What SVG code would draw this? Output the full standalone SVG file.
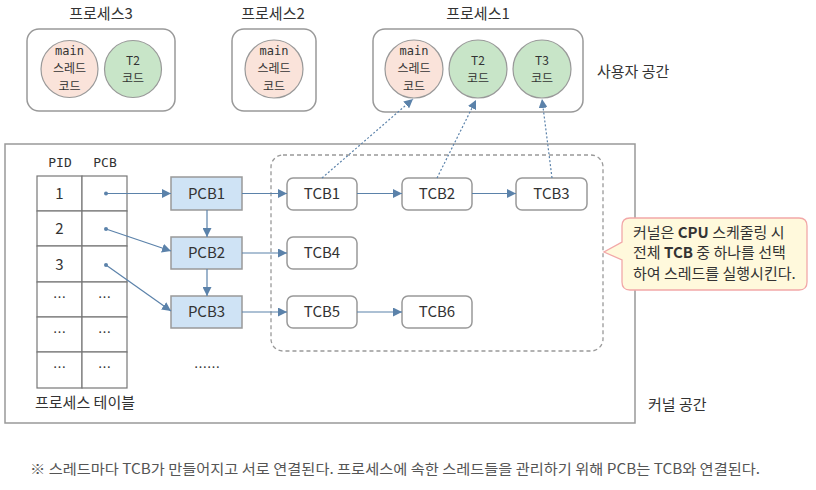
<svg xmlns="http://www.w3.org/2000/svg" width="816" height="490" viewBox="0 0 816 490">
<defs>
<style>
text{font-family:"Noto Sans CJK KR","Noto Sans",sans-serif;fill:#333;}
.t{font-size:15px;}
.c{text-anchor:middle;}
.mono{font-family:"DejaVu Sans Mono","Liberation Mono",monospace;font-size:12px;}
.s13{font-size:13px;}
.s12{font-size:12px;}
.box{fill:#fff;stroke:#999;stroke-width:1.5;}
.main{fill:#fae3da;stroke:#999;stroke-width:1.2;}
.grn{fill:#c8e5c8;stroke:#999;stroke-width:1.2;}
.pcb{fill:#cfe3f5;stroke:#999;stroke-width:1.5;}
.tcb{fill:#fff;stroke:#999;stroke-width:1.5;}
.cell{fill:#fff;stroke:#777;stroke-width:1.2;}
.arr{stroke:#5b82aa;stroke-width:1.2;fill:none;marker-end:url(#ah);}
.dot{stroke:#5b82aa;stroke-width:1.2;fill:none;stroke-dasharray:2 2;marker-end:url(#ah);}
</style>
<marker id="ah" viewBox="0 0 10 10" refX="10" refY="5" markerWidth="9" markerHeight="9" markerUnits="userSpaceOnUse" orient="auto">
<path d="M0,0 L10,5 L0,10 z" fill="#5b82aa"/>
</marker>
</defs>

<!-- user space -->
<g id="process3">
<text class="t c" x="101" y="19">프로세스3</text>
<rect class="box" x="27" y="29" width="148" height="82" rx="12"/>
<circle class="main" cx="69.5" cy="69" r="28.5"/>
<text class="mono c" x="69.5" y="55">main</text>
<text class="s12 c" x="69.5" y="73">스레드</text>
<text class="s12 c" x="69.5" y="91">코드</text>
<circle class="grn" cx="133" cy="69" r="28.5"/>
<text class="s12 c" x="133" y="65">T2</text>
<text class="s12 c" x="133" y="83">코드</text>
</g>
<g id="process2">
<text class="t c" x="273" y="19">프로세스2</text>
<rect class="box" x="232" y="29" width="84" height="82" rx="12"/>
<circle class="main" cx="274" cy="69" r="29"/>
<text class="mono c" x="274" y="55">main</text>
<text class="s12 c" x="274" y="73">스레드</text>
<text class="s12 c" x="274" y="91">코드</text>
</g>
<g id="process1">
<text class="t c" x="478" y="19">프로세스1</text>
<rect class="box" x="373" y="29" width="210" height="83" rx="12"/>
<circle class="main" cx="414" cy="69" r="29"/>
<text class="mono c" x="414" y="55">main</text>
<text class="s12 c" x="414" y="73">스레드</text>
<text class="s12 c" x="414" y="91">코드</text>
<circle class="grn" cx="478" cy="69" r="29"/>
<text class="s12 c" x="478" y="65">T2</text>
<text class="s12 c" x="478" y="83">코드</text>
<circle class="grn" cx="542" cy="69" r="29"/>
<text class="s12 c" x="542" y="65">T3</text>
<text class="s12 c" x="542" y="83">코드</text>
</g>
<text class="t" x="597" y="77">사용자 공간</text>

<!-- kernel -->
<rect id="kernel" x="5" y="144" width="630" height="279" fill="#fff" stroke="#999" stroke-width="1.5"/>
<text class="t" x="648" y="410">커널 공간</text>

<g id="processTable">
<text class="mono c" x="60" y="167" style="font-size:13px">PID</text>
<text class="mono c" x="105" y="167" style="font-size:13px">PCB</text>
<rect class="cell" x="37" y="176" width="45" height="35"/>
<rect class="cell" x="82" y="176" width="45" height="35"/>
<rect class="cell" x="37" y="211" width="45" height="35"/>
<rect class="cell" x="82" y="211" width="45" height="35"/>
<rect class="cell" x="37" y="246" width="45" height="36"/>
<rect class="cell" x="82" y="246" width="45" height="36"/>
<rect class="cell" x="37" y="282" width="45" height="35"/>
<rect class="cell" x="82" y="282" width="45" height="35"/>
<rect class="cell" x="37" y="317" width="45" height="35"/>
<rect class="cell" x="82" y="317" width="45" height="35"/>
<rect class="cell" x="37" y="352" width="45" height="36"/>
<rect class="cell" x="82" y="352" width="45" height="36"/>
<text class="t c" x="59.5" y="199">1</text>
<text class="t c" x="59.5" y="234">2</text>
<text class="t c" x="59.5" y="270">3</text>
<text class="s13 c" x="59.5" y="302">…</text>
<text class="s13 c" x="104.5" y="302">…</text>
<text class="s13 c" x="59.5" y="337">…</text>
<text class="s13 c" x="104.5" y="337">…</text>
<text class="s13 c" x="59.5" y="372">…</text>
<text class="s13 c" x="104.5" y="372">…</text>
<circle cx="106" cy="193.5" r="2" fill="#5b82aa"/>
<circle cx="106" cy="229" r="2" fill="#5b82aa"/>
<circle cx="106" cy="265" r="2" fill="#5b82aa"/>
<text class="t c" x="85" y="408">프로세스 테이블</text>
</g>

<rect id="threadGroup" x="271" y="155" width="332" height="196" rx="12" fill="none" stroke="#999" stroke-width="1.3" stroke-dasharray="4 3"/>

<g id="pcb1"><rect class="pcb" x="171" y="177" width="71" height="33"/><text class="t c" x="206.5" y="199">PCB1</text></g>
<g id="pcb2"><rect class="pcb" x="171" y="237" width="71" height="32"/><text class="t c" x="206.5" y="258">PCB2</text></g>
<g id="pcb3"><rect class="pcb" x="171" y="296" width="71" height="32"/><text class="t c" x="206.5" y="317">PCB3</text></g>
<text class="s13 c" x="207" y="372">……</text>

<g id="tcb1"><rect class="tcb" x="287" y="178" width="70" height="32" rx="6"/><text class="t c" x="322" y="199">TCB1</text></g>
<g id="tcb2"><rect class="tcb" x="402" y="178" width="70" height="32" rx="6"/><text class="t c" x="437" y="199">TCB2</text></g>
<g id="tcb3"><rect class="tcb" x="516" y="178" width="71" height="32" rx="6"/><text class="t c" x="551.5" y="199">TCB3</text></g>
<g id="tcb4"><rect class="tcb" x="287" y="237" width="70" height="32" rx="6"/><text class="t c" x="322" y="258">TCB4</text></g>
<g id="tcb5"><rect class="tcb" x="287" y="296" width="70" height="32" rx="6"/><text class="t c" x="322" y="317">TCB5</text></g>
<g id="tcb6"><rect class="tcb" x="402" y="296" width="70" height="32" rx="6"/><text class="t c" x="437" y="317">TCB6</text></g>

<g id="connectors">
<line class="arr" x1="106" y1="193.5" x2="171" y2="193.5"/>
<line class="arr" x1="106" y1="229" x2="171" y2="251"/>
<line class="arr" x1="106" y1="265" x2="171" y2="311"/>
<line class="arr" x1="207" y1="210" x2="207" y2="237"/>
<line class="arr" x1="207" y1="269" x2="207" y2="296"/>
<line class="arr" x1="242" y1="193.5" x2="287" y2="193.5"/>
<line class="arr" x1="242" y1="253" x2="287" y2="253"/>
<line class="arr" x1="242" y1="312" x2="287" y2="312"/>
<line class="arr" x1="357" y1="193.5" x2="402" y2="193.5"/>
<line class="arr" x1="472" y1="193.5" x2="516" y2="193.5"/>
<line class="arr" x1="357" y1="312" x2="402" y2="312"/>
<line class="dot" x1="322" y1="178" x2="413" y2="99"/>
<line class="dot" x1="437" y1="178" x2="476" y2="100"/>
<line class="dot" x1="552" y1="178" x2="542" y2="99"/>
</g>

<g id="callout">
<path d="M622,226 Q622,218 630,218 L799,218 Q807,218 807,226 L807,282 Q807,290 799,290 L630,290 Q622,290 622,282 L622,260 L604,252 L622,242 Z" fill="#fff9dc" stroke="#f2a8a8" stroke-width="1.3"/>
<text class="t" x="633" y="238">커널은 <tspan font-weight="bold">CPU</tspan> 스케줄링 시</text>
<text class="t" x="633" y="258">전체 <tspan font-weight="bold">TCB</tspan> 중 하나를 선택</text>
<text class="t" x="633" y="279">하여 스레드를 실행시킨다.</text>
</g>

<text id="footnote" x="30" y="474" style="font-size:14px;fill:#555" textLength="730" lengthAdjust="spacingAndGlyphs">※ 스레드마다 TCB가 만들어지고 서로 연결된다. 프로세스에 속한 스레드들을 관리하기 위해 PCB는 TCB와 연결된다.</text>
</svg>
